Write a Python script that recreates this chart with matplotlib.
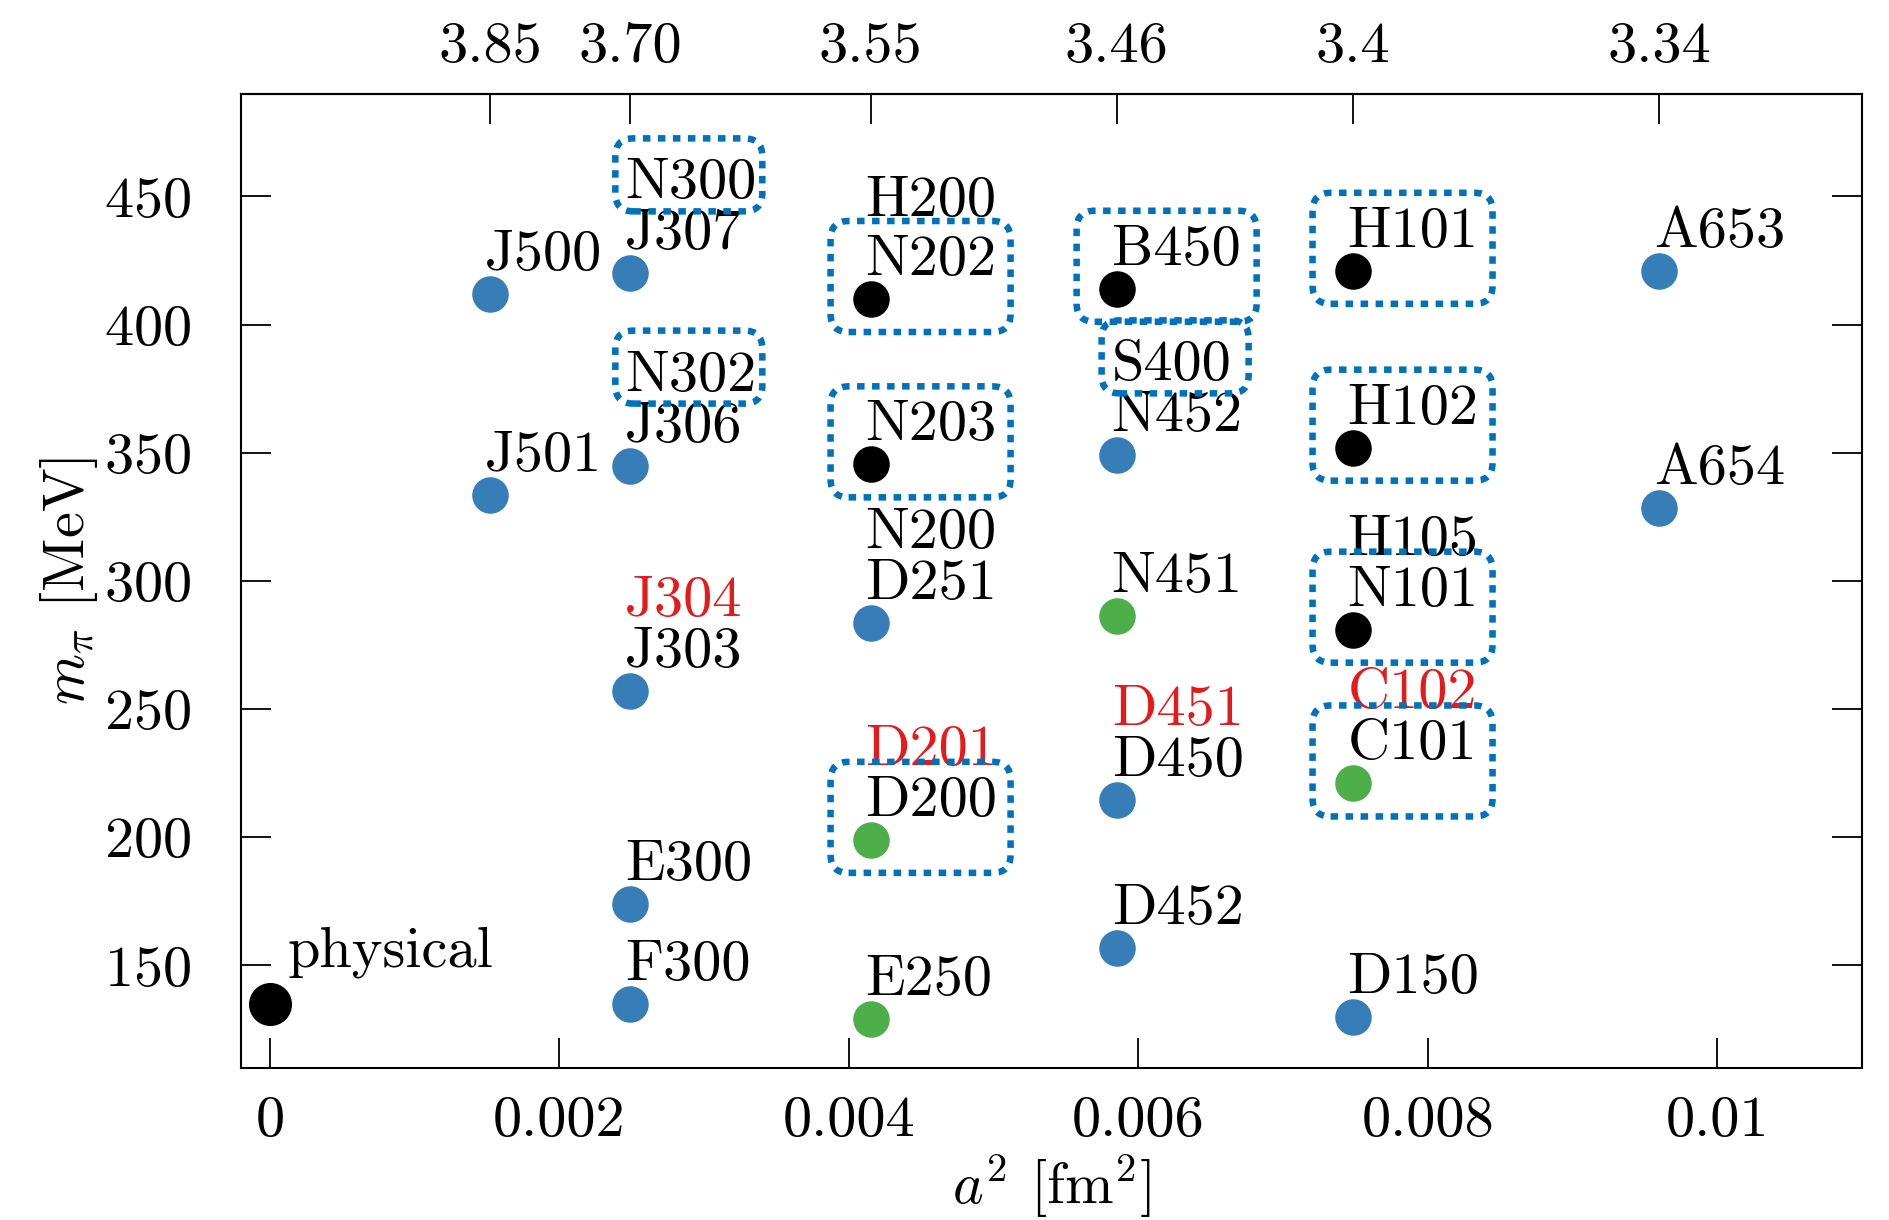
#!/usr/bin/env python3

import matplotlib
matplotlib.use('Agg')
import matplotlib.pyplot as plt
import matplotlib.transforms as mtransforms
from matplotlib.patches import FancyBboxPatch

plt.rcParams['font.family'] = 'serif'
plt.rcParams['font.serif'] = ['cmr10']
plt.rcParams['mathtext.fontset'] = 'cm'
plt.rcParams['axes.formatter.use_mathtext'] = True
plt.rcParams['font.size'] = 42

#-----------
# DATA
#-----------
beta_labels = ['3.85', '3.70', '3.55', '3.46', '3.4', '3.34']
beta_a2 = [0.00152, 0.00249, 0.00415, 0.00585, 0.00748, 0.0096]

ens_names = ['J500', 'J501', 'J307', 'J306', 'J303', 'E300', 'F300',
             'N202', 'N203', 'D251', 'D200', 'E250',
             'B450', 'N452', 'N451', 'D450', 'D452',
             'H101', 'H102', 'N101', 'C101', 'D150',
             'A653', 'A654']
ens_beta = ['3.85', '3.85', '3.70', '3.70', '3.70', '3.70', '3.70',
            '3.55', '3.55', '3.55', '3.55', '3.55',
            '3.46', '3.46', '3.46', '3.46', '3.46',
            '3.4', '3.4', '3.4', '3.4', '3.4',
            '3.34', '3.34']
ens_mpi = [412, 333.5, 420, 345, 257, 174, 135,
           410, 345.5, 283.5, 199, 129,
           414, 349, 286.5, 214.5, 157,
           421, 352, 281, 221, 130,
           421, 328.5]
ens_group = ['b', 'b', 'b', 'b', 'b', 'b', 'b',
             'k', 'k', 'b', 'g', 'g',
             'k', 'b', 'g', 'b', 'b',
             'k', 'k', 'k', 'g', 'b',
             'b', 'b']

# ensembles sharing a point with another one: label stacked above it
extra_names = ['N300', 'N302', 'J304', 'H200', 'N200', 'D201', 'S400', 'D451', 'H105', 'C102']
extra_anchor = ['J307', 'J306', 'J303', 'N202', 'D251', 'D200', 'N452', 'D450', 'N101', 'C101']
extra_red = ['J304', 'D201', 'D451', 'C102']

boxed_points = ['N202', 'N203', 'D200', 'B450', 'H101', 'H102', 'N101', 'C101']
boxed_labels = ['N300', 'N302', 'S400']

phys_a2 = 0.0
phys_mpi = 135

x_ticks = [0, 0.002, 0.004, 0.006, 0.008, 0.01]
x_ticklabels = ['0', '0.002', '0.004', '0.006', '0.008', '0.01']
y_ticks = [150, 200, 250, 300, 350, 400, 450]

#-----------
# STYLE
#-----------
COLORS = {'b': '#377eb8', 'g': '#4daf4a', 'k': 'black'}
RED = '#e41a1c'
BOXC = '#0072bd'
BASE = 24    # px, baseline of first label above point centre
STEP = 51    # px, between stacked labels
TICKLEN = 21.6

fig = plt.figure(figsize=(18.9, 12.2), dpi=100)
ax = fig.add_axes([0.1275, 0.1246, 0.8577, 0.7984])
ax.set_xlim(-0.0002, 0.011)
ax.set_ylim(110, 490)

beta_to_a2 = dict(zip(beta_labels, beta_a2))
pos = {n: (beta_to_a2[b], m) for n, b, m in zip(ens_names, ens_beta, ens_mpi)}

# points
for g in ['b', 'g', 'k']:
  xs = [pos[n][0] for n, gg in zip(ens_names, ens_group) if gg == g]
  ys = [pos[n][1] for n, gg in zip(ens_names, ens_group) if gg == g]
  ax.scatter(xs, ys, s=26.3**2, c=COLORS[g], linewidths=0, zorder=3)
ax.scatter([phys_a2], [phys_mpi], s=31**2, c='black', linewidths=0, zorder=3, clip_on=False)
ax.annotate('physical', xy=(phys_a2, phys_mpi), xytext=(18, 37), textcoords='offset pixels',
            ha='left', va='baseline')

# labels
for n in ens_names:
  ax.annotate(n, xy=pos[n], xytext=(-5, BASE), textcoords='offset pixels',
              ha='left', va='baseline', zorder=4)
for n, a in zip(extra_names, extra_anchor):
  step = 59 if n == 'H200' else STEP
  ax.annotate(n, xy=pos[a], xytext=(-5, BASE + step), textcoords='offset pixels',
              ha='left', va='baseline', color=RED if n in extra_red else 'black', zorder=4)

# dotted boxes, sized in pixels around the anchor point
def _box(xy, x0, y0, x1, y1):
  trans = mtransforms.IdentityTransform() + mtransforms.ScaledTranslation(xy[0], xy[1], ax.transData)
  p = FancyBboxPatch((x0, y0), x1 - x0, y1 - y0,
                     boxstyle='round,pad=0,rounding_size=18',
                     transform=trans, fc='none', ec=BOXC, lw=4.7,
                     ls=(0, (1.15, 1.15)), capstyle='butt', zorder=5, clip_on=False)
  ax.add_patch(p)

for n in boxed_points:
  _box(pos[n], -40, -33, 140, 78)
for n in boxed_labels:
  _box(pos[extra_anchor[extra_names.index(n)]], -15, 62, 132, 135)

# axes
for s in ax.spines.values():
  s.set_linewidth(1.5)
ax.set_xticks(x_ticks, labels=x_ticklabels)
ax.set_yticks(y_ticks)
ax.tick_params(axis='both', direction='in', length=TICKLEN, width=1.3, top=False, right=True)
ax.tick_params(axis='x', pad=20)
ax.tick_params(axis='y', pad=36)

sec = ax.secondary_xaxis('top')
sec.set_xticks(beta_a2, labels=beta_labels)
sec.tick_params(direction='in', length=TICKLEN, width=1.3, pad=15)
sec.spines['top'].set_linewidth(1.5)

ax.set_xlabel('$a^2$ [fm$^2$]')
ax.set_ylabel(r'$m_\pi$ [MeV]')
ax.xaxis.set_label_coords(0.5, -0.087)
ax.yaxis.set_label_coords(-0.087, 0.5)

fig.savefig('out.png', dpi=100)
